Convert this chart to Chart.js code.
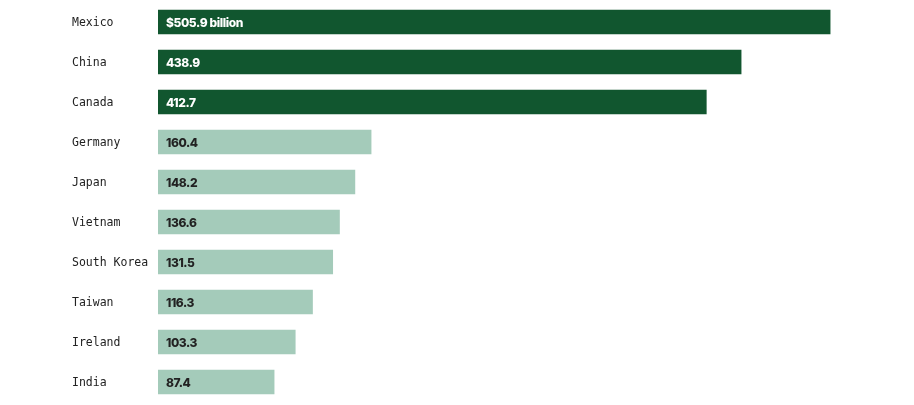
<!DOCTYPE html>
<html><head><meta charset="utf-8">
<script src="https://cdn.jsdelivr.net/npm/chart.js@4"></script>
<style>html,body{margin:0;padding:0;background:#fff}#wrap{width:914px;height:405px}</style>
</head><body><div id="wrap"><canvas id="c"></canvas></div>
<script>
const categories = ["Mexico","China","Canada","Germany","Japan","Vietnam","South Korea","Taiwan","Ireland","India"];
const values = [505.9,438.9,412.7,160.4,148.2,136.6,131.5,116.3,103.3,87.4];
const valueLabels = ["$505.9 billion","438.9","412.7","160.4","148.2","136.6","131.5","116.3","103.3","87.4"];
const highlighted = [true,true,true,false,false,false,false,false,false,false];

const DARK = "#11562F", LIGHT = "#A4CBBA";

const valuePlugin = {
  id: 'valueLabels',
  afterDatasetsDraw(chart) {
    const ctx = chart.ctx;
    const meta = chart.getDatasetMeta(0);
    const xs = chart.scales.x;
    ctx.save();
    ctx.font = "800 12px Inter, 'Noto Sans', sans-serif";
    if ('letterSpacing' in ctx) ctx.letterSpacing = "-0.4px";
    ctx.textBaseline = "middle";
    ctx.textAlign = "left";
    meta.data.forEach((bar, i) => {
      ctx.fillStyle = highlighted[i] ? "#ffffff" : "#222222";
      ctx.fillText(valueLabels[i], xs.getPixelForValue(0) + 8, bar.y + 1.5);
    });
    ctx.restore();
  }
};

new Chart(document.getElementById('c'), {
  type: 'bar',
  data: {
    labels: categories,
    datasets: [{
      data: values,
      backgroundColor: highlighted.map(h => h ? DARK : LIGHT),
      barThickness: 24,
      borderWidth: 0
    }]
  },
  options: {
    indexAxis: 'y',
    responsive: true,
    maintainAspectRatio: false,
    animation: false,
    layout: { padding: { left: 72, right: 12, top: 2, bottom: 3 } },
    plugins: { legend: { display: false }, tooltip: { enabled: false } },
    scales: {
      x: { display: false, min: 0, max: 560 },
      y: {
        grid: { display: false },
        border: { display: false },
        afterFit(scale) { scale.width = 86; },
        ticks: {
          crossAlign: 'far',
          color: '#222222',
          labelOffset: 1.5,
          font: { family: "'DejaVu Sans Mono', monospace", size: 11.5, lineHeight: 0.3 },
          padding: 0
        }
      }
    }
  },
  plugins: [valuePlugin]
});
</script></body></html>
